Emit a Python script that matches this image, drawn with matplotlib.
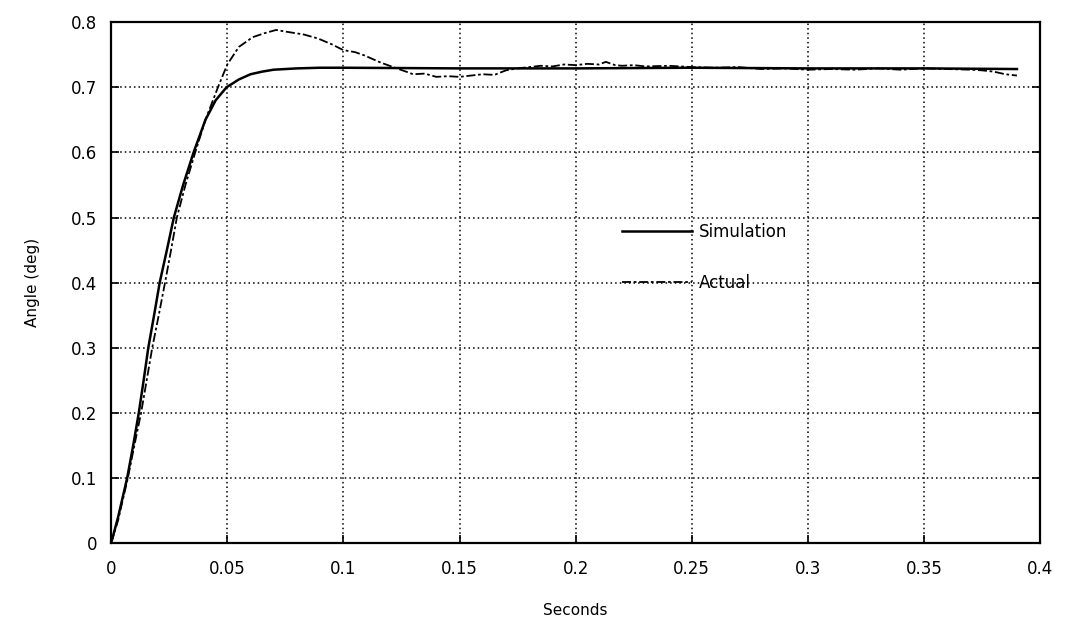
import matplotlib
matplotlib.use('Agg')
import matplotlib.pyplot as plt
import numpy as np

# simulated response
t_sim = [0, 0.003, 0.0069, 0.0095, 0.0119, 0.014, 0.016, 0.0185, 0.0209, 0.024,
         0.027, 0.031, 0.0355, 0.0406, 0.045, 0.0497, 0.055, 0.06, 0.065, 0.07,
         0.08, 0.09, 0.1, 0.15, 0.2, 0.25, 0.3, 0.35, 0.39]
y_sim = [0, 0.04, 0.1, 0.15, 0.2, 0.25, 0.3, 0.35, 0.4, 0.45,
         0.5, 0.55, 0.6, 0.65, 0.68, 0.7, 0.712, 0.72, 0.724, 0.727,
         0.729, 0.73, 0.73, 0.729, 0.729, 0.73, 0.729, 0.729, 0.728]

# measured response
t_act = [0, 0.003, 0.0072, 0.010, 0.0129, 0.0153, 0.0177, 0.0205, 0.0232, 0.0258,
         0.0283, 0.032, 0.0362, 0.0406, 0.046, 0.05, 0.055, 0.061, 0.066, 0.071,
         0.076, 0.083, 0.089, 0.095, 0.1, 0.105, 0.109, 0.116, 0.123, 0.127,
         0.13, 0.135, 0.14, 0.145, 0.15, 0.155, 0.16, 0.165, 0.17, 0.175,
         0.18, 0.185, 0.19, 0.195, 0.2, 0.205, 0.21, 0.213, 0.217, 0.22,
         0.225, 0.23, 0.24, 0.25, 0.26, 0.27, 0.28, 0.29, 0.3, 0.31,
         0.32, 0.33, 0.34, 0.35, 0.36, 0.37, 0.375, 0.38, 0.385, 0.39]
y_act = [0, 0.035, 0.1, 0.15, 0.2, 0.25, 0.3, 0.35, 0.4, 0.45,
         0.5, 0.55, 0.6, 0.65, 0.7, 0.735, 0.762, 0.777, 0.783, 0.788,
         0.785, 0.781, 0.775, 0.766, 0.757, 0.754, 0.749, 0.738, 0.729, 0.724,
         0.72, 0.721, 0.716, 0.717, 0.716, 0.718, 0.720, 0.719, 0.726, 0.729,
         0.731, 0.733, 0.732, 0.735, 0.734, 0.736, 0.735, 0.739, 0.734, 0.733,
         0.734, 0.732, 0.733, 0.731, 0.730, 0.731, 0.728, 0.729, 0.727, 0.728,
         0.727, 0.729, 0.727, 0.729, 0.728, 0.727, 0.726, 0.724, 0.720, 0.718]

xticks = [0, 0.05, 0.1, 0.15, 0.2, 0.25, 0.3, 0.35, 0.4]
xlabels = ['0', '0.05', '0.1', '0.15', '0.2', '0.25', '0.3', '0.35', '0.4']
yticks = [0, 0.1, 0.2, 0.3, 0.4, 0.5, 0.6, 0.7, 0.8]
ylabels = ['0', '0.1', '0.2', '0.3', '0.4', '0.5', '0.6', '0.7', '0.8']

fig = plt.figure(figsize = (10.79, 6.33), dpi = 100)
ax = fig.add_axes([0.103, 0.142, 0.861, 0.823])

ax.plot(t_sim, y_sim, color = 'black', linewidth = 1.8, label = 'Simulation', zorder = 3)
ax.plot(t_act, y_act, color = 'black', linewidth = 1.3, linestyle = (0, (5, 1.5, 1.5, 1.5)),
        label = 'Actual', zorder = 3)

ax.set_xlim(0, 0.4); ax.set_ylim(0, 0.8)
ax.set_xticks(xticks); ax.set_yticks(yticks)
ax.set_xticklabels(xlabels); ax.set_yticklabels(ylabels)
ax.tick_params(direction = 'in', length = 6, width = 1.2, labelsize = 12, right = True)
ax.tick_params(axis = 'x', pad = 12)
ax.tick_params(axis = 'y', pad = 10)
ax.grid(True, color = 'black', linestyle = (0, (1, 2)), linewidth = 1.1)
for s in ax.spines.values():
    s.set_linewidth(1.6)

ax.set_xlabel('Seconds', size = 11, labelpad = 18)
ax.set_ylabel('Angle (deg)', size = 11, labelpad = 22)

ax.legend(loc = 'upper left', bbox_to_anchor = (0.55, 0.615), frameon = False,
          fontsize = 12, handlelength = 4.2, handletextpad = 0.4, labelspacing = 2.0,
          borderpad = 0, borderaxespad = 0)

plt.savefig('out.png', dpi = 100, facecolor = 'white')
plt.close()
